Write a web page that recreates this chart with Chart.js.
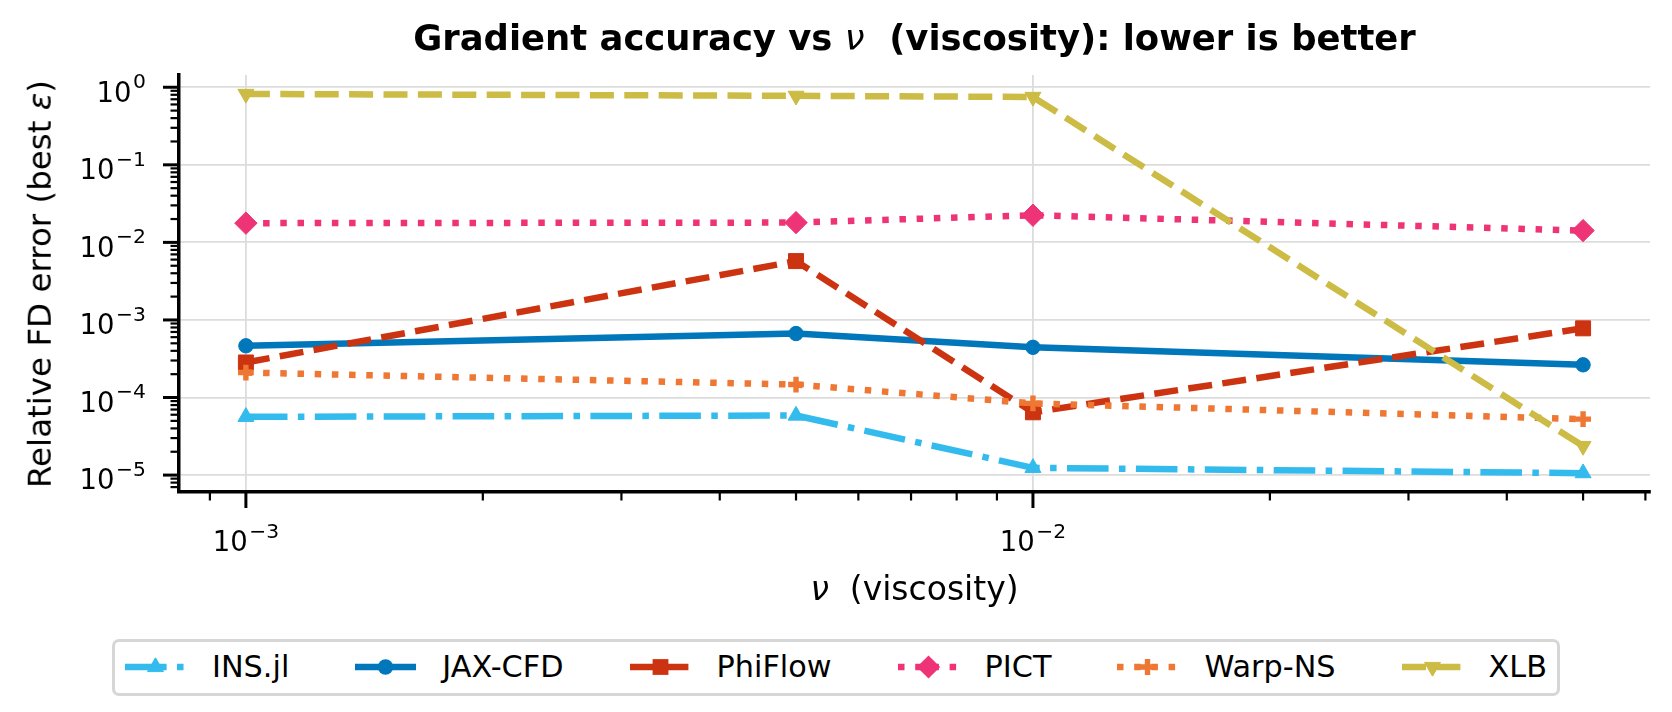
<!DOCTYPE html>
<html>
<head>
<meta charset="utf-8">
<script src="https://cdn.jsdelivr.net/npm/chart.js@4.4.1/dist/chart.umd.min.js"></script>
<style>
  html, body { margin: 0; padding: 0; background: #ffffff; }
  body { width: 1672px; height: 712px; position: relative; overflow: hidden; font-family: 'DejaVu Sans', sans-serif; color: #000; }
  #wrap { position: absolute; left: 0; top: 0; width: 1672px; height: 712px; }
  .txt { position: absolute; white-space: pre; line-height: 1; }
  #title { left: 914.5px; top: 20px; transform: translateX(-50%); font-weight: bold; font-size: 35.4px; }
  #title i { font-weight: normal; }
  #xlabel { left: 914.5px; top: 572px; transform: translateX(-50%); font-size: 33px; }
  #ylabel { left: 40px; top: 284px; transform: translate(-50%, -50%) rotate(-90deg); font-size: 32.5px; }
  #legend { position: absolute; left: 836px; top: 639px; height: 57px; transform: translateX(-50%); box-sizing: border-box;
            border: 3px solid #d6d6d6; border-radius: 7px; display: flex; align-items: center; padding: 0 10px; background: #fff; }
  .item { display: flex; align-items: center; margin-left: 66px; }
  .item:first-child { margin-left: 0; }
  .item svg { display: block; margin-right: 26px; }
  .item span { font-size: 30.3px; line-height: 1; white-space: pre; }
</style>
</head>
<body>
<div id="wrap"><canvas id="c"></canvas></div>
<div class="txt" id="title">Gradient accuracy vs <i>ν</i>  (viscosity): lower is better</div>
<div class="txt" id="xlabel"><i>ν</i>  (viscosity)</div>
<div class="txt" id="ylabel">Relative FD error (best <i>ε</i>)</div>
<div id="legend"></div>
<script>
// ---------------- data ----------------
const viscosity = [0.001, 0.005, 0.01, 0.05];
const seriesNames = ['INS.jl', 'JAX-CFD', 'PhiFlow', 'PICT', 'Warp-NS', 'XLB'];
const insjl   = [5.64e-5, 5.86e-5, 1.24e-5, 1.06e-5];
const jaxcfd  = [4.64e-4, 6.68e-4, 4.44e-4, 2.64e-4];
const phiflow = [2.83e-4, 5.74e-3, 6.45e-5, 7.8e-4];
const pict    = [0.0177, 0.018, 0.0224, 0.0142];
const warpns  = [2.1e-4, 1.47e-4, 8.4e-5, 5.26e-5];
const xlb     = [0.82, 0.775, 0.75, 2.37e-5];
const yTickValues = [1e-5, 1e-4, 1e-3, 1e-2, 1e-1, 1];
const yTickExponents = ['−5', '−4', '−3', '−2', '−1', '0'];
const xTickValues = [1e-3, 1e-2];
const xTickExponents = ['−3', '−2'];
const tickBase = '10';

// ---------------- styles ----------------
const LW = 6.5;
const DASHED = [24, 10.4];
const DOTTED = [6.5, 10.7];
const DASHDOT = [41.6, 10.4, 6.5, 10.4];
const styles = [
  { color: '#33bbee', dash: DASHDOT, marker: 'triangle', radius: 9.2, rot: 0, bw: 1 },
  { color: '#0077bb', dash: [], marker: 'circle', radius: 7.2, rot: 0, bw: 1 },
  { color: '#cc3311', dash: DASHED, marker: 'rect', radius: 10.6, rot: 0, bw: 1 },
  { color: '#ee3377', dash: DOTTED, marker: 'rectRot', radius: 11.2, rot: 0, bw: 1 },
  { color: '#ee7733', dash: DOTTED, marker: 'cross', radius: 7.9, rot: 0, bw: 5.4 },
  { color: '#ccbb44', dash: DASHED, marker: 'triangle', radius: 9.2, rot: 180, bw: 1 },
];
const seriesValues = [insjl, jaxcfd, phiflow, pict, warpns, xlb];

const X_MIN = Math.pow(10, -3.085), X_MAX = Math.pow(10, -1.216);
const Y_MIN = Math.pow(10, -5.218), Y_MAX = Math.pow(10, 0.158);

const datasets = seriesNames.map((name, i) => {
  const s = styles[i];
  return {
    label: name,
    data: viscosity.map((v, j) => ({ x: v, y: seriesValues[i][j] })),
    borderColor: s.color,
    backgroundColor: s.color,
    borderWidth: LW,
    borderDash: s.dash,
    borderCapStyle: 'butt',
    borderJoinStyle: 'round',
    tension: 0,
    fill: false,
    pointStyle: s.marker,
    pointRadius: s.radius,
    pointRotation: s.rot,
    pointBorderWidth: s.bw,
    pointBorderColor: s.color,
    pointBackgroundColor: s.color,
    pointHoverRadius: s.radius,
    order: seriesNames.length - i,
  };
});

function logTicks(min, max) {
  const out = [];
  for (let e = Math.floor(Math.log10(min)); e <= Math.ceil(Math.log10(max)); e++) {
    for (let k = 1; k <= 9; k++) {
      const v = parseFloat((k * Math.pow(10, e)).toPrecision(6));
      if (v >= min * 0.99999 && v <= max * 1.00001) out.push({ value: v, major: k === 1 });
    }
  }
  return out;
}

const BASE_FONT = "27.5px 'DejaVu Sans'";
const EXP_FONT = "20.3px 'DejaVu Sans'";
function sciLabel(ctx, exp, x, baseline, align) {
  ctx.font = BASE_FONT;
  const wb = ctx.measureText(tickBase).width;
  ctx.font = EXP_FONT;
  const we = ctx.measureText(exp).width;
  const total = wb + 1.5 + we;
  const start = align === 'center' ? x - total / 2 : x - total;
  ctx.font = BASE_FONT;
  ctx.fillText(tickBase, start, baseline);
  ctx.font = EXP_FONT;
  ctx.fillText(exp, start + wb + 1.5, baseline - 13.5);
}

const tickPlugin = {
  id: 'mplTicks',
  afterDraw(chart) {
    const ctx = chart.ctx, a = chart.chartArea;
    const xs = chart.scales.x, ys = chart.scales.y;
    ctx.save();
    ctx.strokeStyle = '#000';
    ctx.lineCap = 'butt';
    for (const t of logTicks(ys.min, ys.max)) {
      const p = ys.getPixelForValue(t.value);
      const len = t.major ? 16 : 8.5;
      ctx.lineWidth = t.major ? 3 : 2.2;
      ctx.beginPath(); ctx.moveTo(a.left - len, p); ctx.lineTo(a.left, p); ctx.stroke();
    }
    for (const t of logTicks(xs.min, xs.max)) {
      const p = xs.getPixelForValue(t.value);
      const len = t.major ? 16 : 8.5;
      ctx.lineWidth = t.major ? 3 : 2.2;
      ctx.beginPath(); ctx.moveTo(p, a.bottom); ctx.lineTo(p, a.bottom + len); ctx.stroke();
    }
    ctx.fillStyle = '#000';
    ctx.textBaseline = 'alphabetic';
    ctx.textAlign = 'left';
    yTickValues.forEach((v, i) => {
      const p = ys.getPixelForValue(v);
      sciLabel(ctx, yTickExponents[i], a.left - 33, p + 14.4, 'right');
    });
    xTickValues.forEach((v, i) => {
      const p = xs.getPixelForValue(v);
      sciLabel(ctx, xTickExponents[i], p, a.bottom + 59, 'center');
    });
    ctx.restore();
  }
};

Chart.defaults.font.family = "'DejaVu Sans', sans-serif";
Chart.defaults.color = '#000';

new Chart(document.getElementById('c'), {
  type: 'line',
  data: { datasets },
  options: {
    responsive: true,
    maintainAspectRatio: false,
    animation: false,
    devicePixelRatio: 1,
    layout: { padding: { left: 0, top: 75, right: 22, bottom: 0 } },
    plugins: { legend: { display: false }, title: { display: false }, tooltip: { enabled: false } },
    scales: {
      x: {
        type: 'logarithmic',
        min: X_MIN, max: X_MAX,
        afterBuildTicks: (s) => { s.ticks = xTickValues.map(v => ({ value: v, major: true })); },
        afterFit: (s) => { s.height = 220; },
        ticks: { display: false, autoSkip: false },
        grid: { color: '#dcdcdc', lineWidth: 1.8, drawTicks: false },
        border: { display: true, color: '#000', width: 3.5 },
      },
      y: {
        type: 'logarithmic',
        min: Y_MIN, max: Y_MAX,
        afterBuildTicks: (s) => { s.ticks = yTickValues.map(v => ({ value: v, major: true })); },
        afterFit: (s) => { s.width = 179; },
        ticks: { display: false, autoSkip: false },
        grid: { color: '#dcdcdc', lineWidth: 1.8, drawTicks: false },
        border: { display: true, color: '#000', width: 3.5 },
      }
    }
  },
  plugins: [tickPlugin]
});

// ---------------- legend ----------------
function markerSvg(s, cx, cy) {
  const c = s.color;
  if (s.marker === 'circle') return `<circle cx="${cx}" cy="${cy}" r="7.7" fill="${c}"/>`;
  if (s.marker === 'rect') return `<rect x="${cx-7.9}" y="${cy-7.9}" width="15.8" height="15.8" fill="${c}"/>`;
  if (s.marker === 'rectRot') return `<polygon points="${cx},${cy-11.6} ${cx+11.6},${cy} ${cx},${cy+11.6} ${cx-11.6},${cy}" fill="${c}"/>`;
  if (s.marker === 'cross') return `<path d="M${cx-7.9} ${cy}H${cx+7.9}M${cx} ${cy-7.9}V${cy+7.9}" stroke="${c}" stroke-width="5.4"/>`;
  if (s.marker === 'triangle') {
    const r = 9.2, w = r * Math.sqrt(3) / 2;
    if (s.rot === 180) return `<polygon points="${cx},${cy+r} ${cx+w},${cy-r/2} ${cx-w},${cy-r/2}" fill="${c}" stroke="${c}" stroke-width="1"/>`;
    return `<polygon points="${cx},${cy-r} ${cx+w},${cy+r/2} ${cx-w},${cy+r/2}" fill="${c}" stroke="${c}" stroke-width="1"/>`;
  }
  return '';
}
const legend = document.getElementById('legend');
seriesNames.forEach((name, i) => {
  const s = styles[i];
  const item = document.createElement('div');
  item.className = 'item';
  const dash = s.dash.length ? `stroke-dasharray="${s.dash.join(' ')}"` : '';
  item.innerHTML = `<svg width="61" height="30" viewBox="0 0 61 30"><line x1="0" y1="15" x2="61" y2="15" stroke="${s.color}" stroke-width="${LW}" ${dash}/>${markerSvg(s, 30.5, 15)}</svg><span>${name}</span>`;
  legend.appendChild(item);
});
</script>
</body>
</html>
